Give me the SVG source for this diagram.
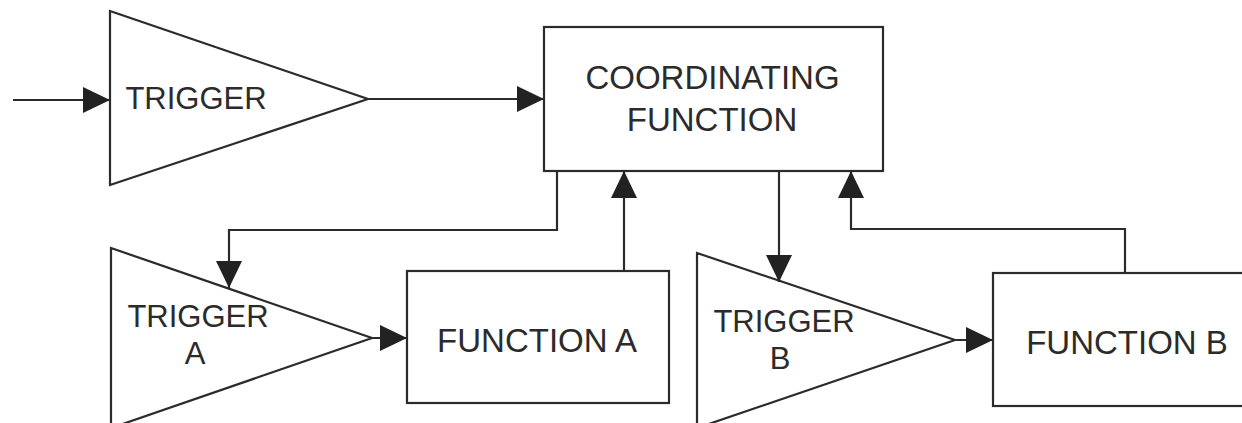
<svg xmlns="http://www.w3.org/2000/svg" width="1242" height="423" viewBox="0 0 1242 423">
<style>
.shape{fill:#fff;stroke:#2b2b2b;stroke-width:2.2}
.conn{fill:none;stroke:#2b2b2b;stroke-width:2.2}
.lbl{font-family:"Liberation Sans",Arial,sans-serif;fill:#2b2b2b;text-anchor:middle}
.t{font-size:31px}
.f{font-size:33px}
</style>
<defs>
<marker id="ah" markerUnits="userSpaceOnUse" markerWidth="28" markerHeight="28" viewBox="0 0 28 28" refX="27" refY="13" orient="auto">
<path d="M0,0 L27,13 L0,26 z" fill="#222"/>
</marker>
</defs>
<rect width="1242" height="423" fill="#fff"/>
<g id="trigger">
<polygon class="shape" points="110,11 110,185 368,99"/>
<text class="lbl t" x="196" y="109">TRIGGER</text>
</g>
<g id="coordinating">
<rect class="shape" x="544" y="27" width="339" height="144"/>
<text class="lbl f" x="712.5" y="89">COORDINATING</text>
<text class="lbl f" x="712" y="131">FUNCTION</text>
</g>
<g id="triggerA">
<polygon class="shape" points="111,248 111,428 372,338"/>
<text class="lbl t" x="198" y="327">TRIGGER</text>
<text class="lbl t" x="195" y="364">A</text>
</g>
<g id="functionA">
<rect class="shape" x="407" y="271" width="262" height="132"/>
<text class="lbl f" x="537" y="352">FUNCTION A</text>
</g>
<g id="triggerB">
<polygon class="shape" points="697,253 697,428 955,340"/>
<text class="lbl t" x="784" y="332">TRIGGER</text>
<text class="lbl t" x="780" y="369">B</text>
</g>
<g id="functionB">
<rect class="shape" x="993" y="273" width="260" height="133"/>
<text class="lbl f" x="1127" y="354">FUNCTION B</text>
</g>
<g id="connectors">
<path class="conn" d="M13,100 H110" marker-end="url(#ah)"/>
<path class="conn" d="M368,99 H544" marker-end="url(#ah)"/>
<path class="conn" d="M557,171 V230 H229 V288" marker-end="url(#ah)"/>
<path class="conn" d="M372,338 H407" marker-end="url(#ah)"/>
<path class="conn" d="M624,271 V171" marker-end="url(#ah)"/>
<path class="conn" d="M779,171 V282" marker-end="url(#ah)"/>
<path class="conn" d="M955,340 H993" marker-end="url(#ah)"/>
<path class="conn" d="M1125,273 V229 H851 V171" marker-end="url(#ah)"/>
</g>
</svg>
